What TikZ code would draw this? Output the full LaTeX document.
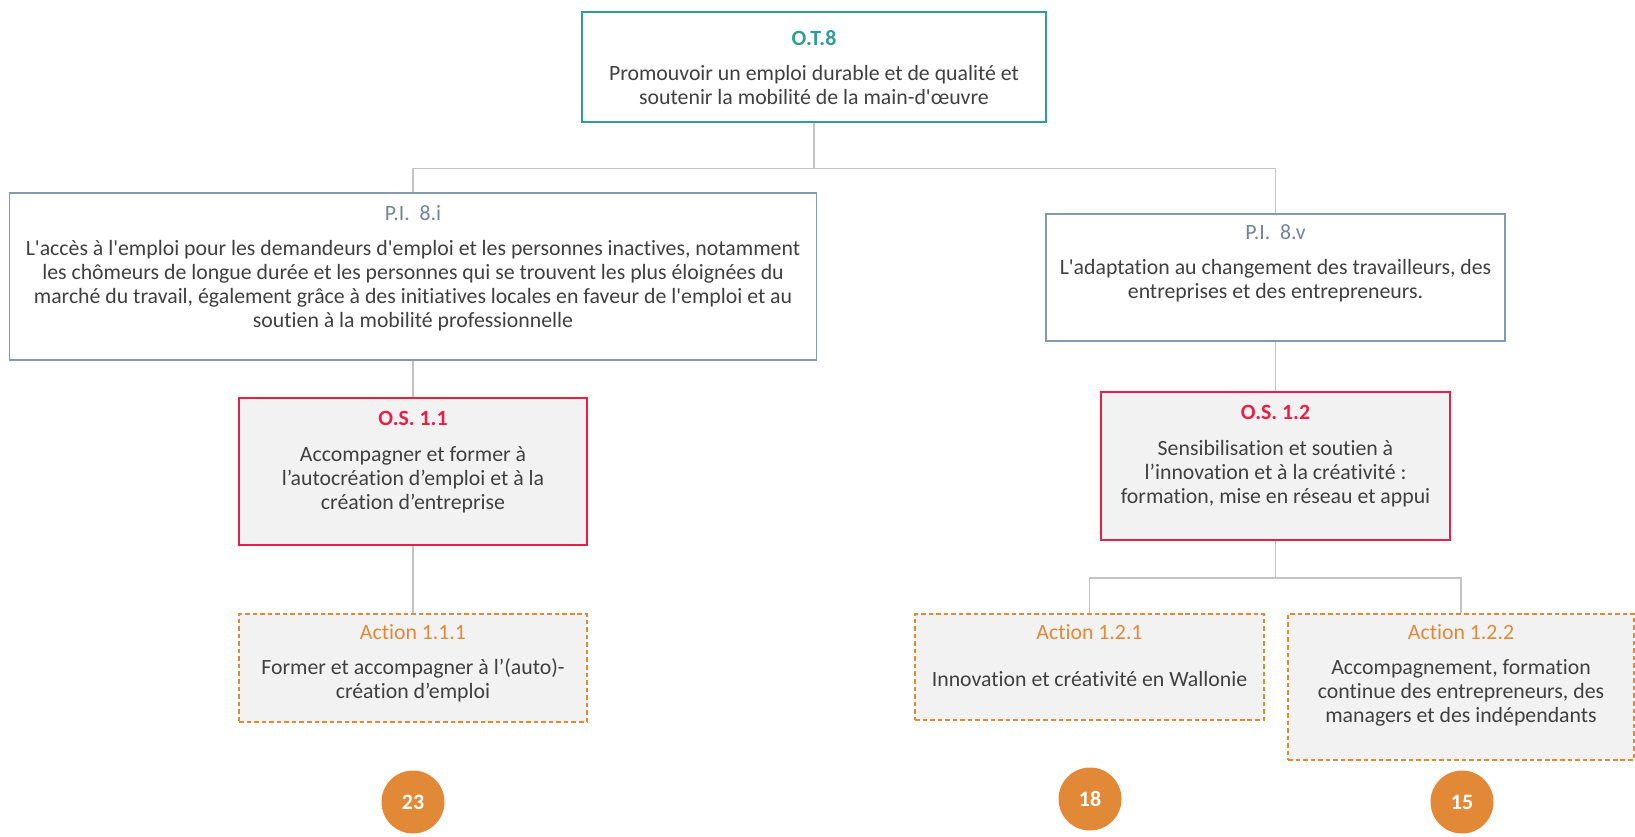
\documentclass[tikz,border=0pt]{standalone}
\usepackage{fontspec}
\setmainfont{Carlito}[Ligatures={TeXOff,NoCommon}]
\usepackage{xcolor}
\definecolor{otTeal}   {RGB}{ 49, 157, 147}
\definecolor{piSlate}  {RGB}{112, 134, 158}
\definecolor{osRed}    {RGB}{234,  30,  70}
\definecolor{actOrange}{RGB}{226, 137,  56}
\definecolor{boxGrey}  {RGB}{242, 242, 242}
\definecolor{inkGrey}  {RGB}{ 64,  64,  64}
\definecolor{lineGrey} {RGB}{196, 196, 196}
\usepackage{tikz}
\usetikzlibrary{positioning}

\begin{document}
\begin{tikzpicture}[
  frame/.style={draw, inner sep=0pt, line width=0.85pt},
  otbox/.style={frame, draw=otTeal, fill=white},
  pibox/.style={frame, draw=piSlate!85, fill=white},
  osbox/.style={frame, draw=osRed, fill=boxGrey},
  actbox/.style={frame, draw=actOrange, fill=boxGrey,
                 dash pattern=on 2.6pt off 1.7pt},
  % text sits in the upper part of each box, not in its middle
  txt/.style={anchor=north, align=center, inner sep=0pt, text=inkGrey,
              font=\fontsize{12.4}{13.6}\selectfont},
  conn/.style={draw=lineGrey, line width=0.85pt},
  badge/.style={circle, fill=actOrange, minimum size=1.26cm, inner sep=0pt,
                text=white, font=\fontsize{12.5}{13}\selectfont\bfseries},
]
  \useasboundingbox (0,0) rectangle (32.7,-16.74);

  % Thematic objective
  \node[otbox, minimum width=9.28cm, minimum height=2.2cm] (ot) at (16.28,-1.34) {};
  \node[txt, below=0.38cm of ot.north] (ot-t)
    {\textcolor{otTeal}{\bfseries O.T.8}\\[6.5pt]
     Promouvoir un emploi durable et de qualité et\\
     soutenir la mobilité de la main-d'œuvre};

  % Investment priorities
  \node[pibox, minimum width=16.14cm, minimum height=3.34cm] (pia) at (8.26,-5.53) {};
  \node[txt, below=0.26cm of pia.north] (pia-t)
    {\textcolor{piSlate}{P.I.~~8.i}\\[6.5pt]
     L'accès à l'emploi pour les demandeurs d'emploi et les personnes inactives, notamment\\
     les chômeurs de longue durée et les personnes qui se trouvent les plus éloignées du\\
     marché du travail, également grâce à des initiatives locales en faveur de l'emploi et au\\
     soutien à la mobilité professionnelle};

  \node[pibox, minimum width=9.18cm, minimum height=2.54cm] (piv) at (25.51,-5.55) {};
  \node[txt, below=0.22cm of piv.north] (piv-t)
    {\textcolor{piSlate}{P.I.~~8.v}\\[6.5pt]
     L'adaptation au changement des travailleurs, des\\
     entreprises et des entrepreneurs.};

  % Specific objectives
  \node[osbox, minimum width=6.96cm, minimum height=2.94cm] (osa) at (8.26,-9.43) {};
  \node[txt, below=0.28cm of osa.north] (osa-t)
    {\textcolor{osRed}{\bfseries O.S.~1.1}\\[6.5pt]
     Accompagner et former à\\
     l’autocréation d’emploi et à la\\
     création d’entreprise};

  \node[osbox, minimum width=6.98cm, minimum height=2.96cm] (osb) at (25.51,-9.32) {};
  \node[txt, below=0.28cm of osb.north] (osb-t)
    {\textcolor{osRed}{\bfseries O.S.~1.2}\\[6.5pt]
     Sensibilisation et soutien à\\
     l’innovation et à la créativité :\\
     formation, mise en réseau et appui};

  % Actions (dashed)
  \node[actbox, minimum width=6.96cm, minimum height=2.16cm] (acta) at (8.26,-13.36) {};
  \node[txt, below=0.22cm of acta.north] (acta-t)
    {\textcolor{actOrange}{Action 1.1.1}\\[6.5pt]
     Former et accompagner à l’(auto)-\\
     création d’emploi};

  \node[actbox, minimum width=6.98cm, minimum height=2.12cm] (actb) at (21.79,-13.34) {};
  \node[txt, below=0.22cm of actb.north] (actb-t)
    {\textcolor{actOrange}{Action 1.2.1}\\[13pt]
     Innovation et créativité en Wallonie};

  \node[actbox, minimum width=6.92cm, minimum height=2.92cm] (actc) at (29.22,-13.74) {};
  \node[txt, below=0.22cm of actc.north] (actc-t)
    {\textcolor{actOrange}{Action 1.2.2}\\[6.5pt]
     Accompagnement, formation\\
     continue des entrepreneurs, des\\
     managers et des indépendants};

  % Tree connectors
  \draw[conn] (ot.south) -- ++(0,-0.92) -| (pia.north);
  \draw[conn] (ot.south) -- ++(0,-0.92) -| (piv.north);
  \draw[conn] (pia.south) -- (osa.north);
  \draw[conn] (piv.south) -- (osb.north);
  \draw[conn] (osa.south) -- (acta.north);
  \draw[conn] (osb.south) -- ++(0,-0.74) -| (actb.north);
  \draw[conn] (osb.south) -- ++(0,-0.74) -| (actc.north);

  % Counts under each action
  \node[badge] (na) at (8.26,-16.04) {23};
  \node[badge] (nb) at (21.8,-15.98) {18};
  \node[badge] (nc) at (29.24,-16.04) {15};
\end{tikzpicture}
\end{document}
